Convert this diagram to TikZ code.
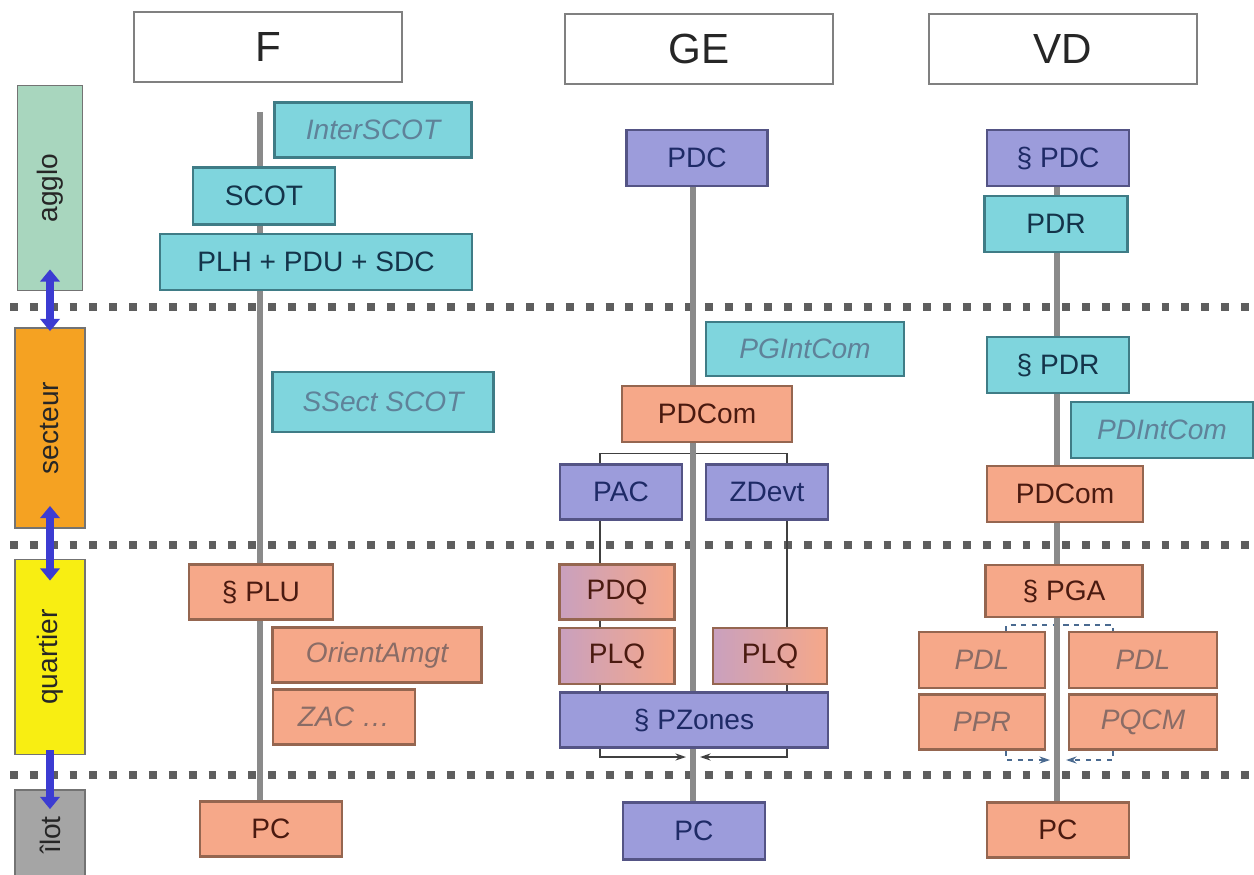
\documentclass[tikz,border=0pt]{standalone}
\usepackage{fontspec}
\setmainfont{Liberation Sans}
\usetikzlibrary{arrows.meta, backgrounds}

\definecolor{cyanfill}{HTML}{7FD5DD}
\definecolor{cyanline}{HTML}{3F7C86}
\definecolor{cyantext}{HTML}{14344A}
\definecolor{cyannote}{HTML}{5F8299}
\definecolor{purplefill}{HTML}{9C9CDB}
\definecolor{purpleline}{HTML}{545485}
\definecolor{purpletext}{HTML}{1E2A66}
\definecolor{salmonfill}{HTML}{F6A889}
\definecolor{salmonline}{HTML}{956650}
\definecolor{salmontext}{HTML}{4A1A10}
\definecolor{salmonnote}{HTML}{8A6C66}
\definecolor{mauvefill}{HTML}{C9A0BE}
\definecolor{agglofill}{HTML}{A8D6BE}
\definecolor{secteurfill}{HTML}{F5A222}
\definecolor{quartierfill}{HTML}{F8EE12}
\definecolor{ilotfill}{HTML}{A5A5A5}
\definecolor{arrowblue}{HTML}{3C3CD2}
\definecolor{spinegray}{HTML}{8A8A8A}
\definecolor{dotgray}{HTML}{5E5E5E}
\definecolor{dashblue}{HTML}{4A6A90}

\begin{document}
\begin{tikzpicture}[x=0.02cm, y=-0.02cm,
  wh/.style 2 args={minimum width=#1*0.02cm, minimum height=#2*0.02cm},
  box/.style={draw, line width=1.2pt, inner sep=0pt, wh={142}{56},
    font=\fontsize{16}{18}\selectfont},
  note/.style={font=\fontsize{16}{18}\selectfont\itshape},
  head/.style={draw=gray, line width=1pt, fill=white, inner sep=0pt, wh={268}{70},
    text=black!85, font=\fontsize{24}{26}\selectfont},
  level/.style={draw=black!55, line width=1pt, inner sep=0pt, rotate=90,
    text=black!85, font=\fontsize{16}{18}\selectfont},
  cyanbox/.style={box, fill=cyanfill, draw=cyanline, text=cyantext},
  purplebox/.style={box, fill=purplefill, draw=purpleline, text=purpletext},
  salmonbox/.style={box, fill=salmonfill, draw=salmonline, text=salmontext},
  mauvebox/.style={box, left color=mauvefill, right color=salmonfill, draw=salmonline, text=salmontext},
  spine/.style={line width=3.5pt, draw=spinegray},
  levelline/.style={line width=4.5pt, draw=dotgray, dash pattern=on 4.5pt off 6.8pt},
  lvlarrow/.style={line width=4.5pt, draw=arrowblue, arrows={-{Triangle[width=11pt,length=7pt]}}},
  link/.style={line width=1pt, draw=black!75},
  dlink/.style={line width=1pt, draw=dashblue, dashed}
]

  \useasboundingbox (0,0) rectangle (1254,875);

  % Headers
  \node[head] (hF) at (268,47) {F};
  \node[head] (hGE) at (699,49) {GE};
  \node[head] (hVD) at (1063,49) {VD};

  % Levels (rotated: east is the top, west the bottom)
  \node[level, fill=agglofill, wh={205}{65}] (agglo) at (50,188) {agglo};
  \node[level, fill=secteurfill, wh={200}{70}] (secteur) at (50,428) {secteur};
  \node[level, fill=quartierfill, wh={195}{70}] (quartier) at (50,657) {quartier};
  \node[level, fill=ilotfill, wh={90}{70}] (ilot) at (50,835) {îlot};

  % Column F
  \node[cyanbox, note, text=cyannote, wh={197}{55}] (interscot) at (373,130) {InterSCOT};
  \node[cyanbox, wh={142}{57}] (scot) at (264,196) {SCOT};
  \node[cyanbox, wh={312}{56}] (plh) at (316,262) {PLH + PDU + SDC};
  \node[cyanbox, note, text=cyannote, wh={221}{60}] (ssect) at (383,402) {SSect SCOT};
  \node[salmonbox, wh={144}{55}] (plu) at (261,592) {§ PLU};
  \node[salmonbox, note, text=salmonnote, wh={209}{55}] (orient) at (377,655) {OrientAmgt};
  \node[salmonbox, note, text=salmonnote, wh={142}{55}] (zac) at (344,717) {ZAC \dots};
  \node[salmonbox, wh={142}{55}] (pcF) at (271,829) {PC};

  % Column GE
  \node[purplebox, wh={141}{56}] (pdc) at (697,158) {PDC};
  \node[cyanbox, note, text=cyannote, wh={198}{54}] (pgint) at (805,349) {PGIntCom};
  \node[salmonbox, wh={170}{56}] (pdcomG) at (707,414) {PDCom};
  \node[purplebox, wh={122}{55}] (pac) at (621,492) {PAC};
  \node[purplebox, wh={122}{55}] (zdevt) at (767,492) {ZDevt};
  \node[mauvebox, wh={115}{55}] (pdq) at (617,592) {PDQ};
  \node[mauvebox, wh={115}{56}] (plqL) at (617,656) {PLQ};
  \node[mauvebox, wh={114}{56}] (plqR) at (770,656) {PLQ};
  \node[purplebox, wh={268}{55}] (pzones) at (694,720) {§ PZones};
  \node[purplebox, wh={142}{57}] (pcGE) at (694,831) {PC};

  % Column VD
  \node[purplebox, wh={142}{56}] (pdcV) at (1058,158) {§ PDC};
  \node[cyanbox, wh={143}{56}] (pdr) at (1056,224) {PDR};
  \node[cyanbox, wh={142}{56}] (spdr) at (1058,365) {§ PDR};
  \node[cyanbox, note, text=cyannote, wh={182}{56}] (pdint) at (1162,430) {PDIntCom};
  \node[salmonbox, wh={156}{56}] (pdcomV) at (1065,494) {PDCom};
  \node[salmonbox, wh={157}{52}] (pga) at (1064,591) {§ PGA};
  \node[salmonbox, note, text=salmonnote, wh={126}{56}] (pdlL) at (982,660) {PDL};
  \node[salmonbox, note, text=salmonnote, wh={148}{56}] (pdlR) at (1143,660) {PDL};
  \node[salmonbox, note, text=salmonnote, wh={126}{55}] (ppr) at (982,722) {PPR};
  \node[salmonbox, note, text=salmonnote, wh={148}{55}] (pqcm) at (1143,722) {PQCM};
  \node[salmonbox, wh={142}{55}] (pcV) at (1058,830) {PC};

  % Spine and branch positions
  \coordinate (topF) at (260,112);
  \coordinate (sGE) at (693,0);
  \coordinate (sVD) at (1057,0);
  \coordinate (gl) at (600,0);
  \coordinate (gr) at (787,0);
  \coordinate (geL) at (686,757);
  \coordinate (geR) at (700,757);
  \coordinate (vl) at (1006,0);
  \coordinate (vr) at (1113,0);
  \coordinate (vdL) at (1050,760);
  \coordinate (vdR) at (1066,760);

  \begin{scope}[on background layer]
    % Level separators
    \foreach \yy in {307,545,775}
      \draw[levelline] (10,\yy) -- (1254,\yy);

    % GE branches
    \draw[link] (pac.north -| gl) -- ++(0,-10) -| (zdevt.north -| gr);
    \draw[link] (pac.south -| gl) -- (pdq.north -| gl);
    \draw[link] (pdq.south -| gl) -- (plqL.north -| gl);
    \draw[link] (plqL.south -| gl) -- (pzones.north -| gl);
    \draw[link] (zdevt.south -| gr) -- (plqR.north -| gr);
    \draw[link] (plqR.south -| gr) -- (pzones.north -| gr);
    \draw[link, -{Stealth[length=6pt,width=4pt]}] (pzones.south -| gl) |- (geL);
    \draw[link, -{Stealth[length=6pt,width=4pt]}] (pzones.south -| gr) |- (geR);

    % VD branches
    \draw[dlink] (pdlL.north -| vl) -- ++(0,-6) -| (pdlR.north -| vr);
    \draw[dlink, -{Stealth[length=6pt,width=4pt]}] (ppr.south -| vl) |- (vdL);
    \draw[dlink, -{Stealth[length=6pt,width=4pt]}] (pqcm.south -| vr) |- (vdR);

    % Spines
    \draw[spine] (topF) -- (pcF.north -| topF);
    \draw[spine] (pdc.south -| sGE) -- (pcGE.north -| sGE);
    \draw[spine] (pdcV.south -| sVD) -- (pcV.north -| sVD);
  \end{scope}

  % Level arrows
  \draw[lvlarrow, arrows={{Triangle[width=11pt,length=7pt]}-{Triangle[width=11pt,length=7pt]}},
    shorten <=-0.44cm, shorten >=-0.08cm] (agglo.west) -- (secteur.east);
  \draw[lvlarrow, arrows={{Triangle[width=11pt,length=7pt]}-{Triangle[width=11pt,length=7pt]}},
    shorten <=-0.46cm, shorten >=-0.44cm] (secteur.west) -- (quartier.east);
  \draw[lvlarrow, shorten <=-0.1cm, shorten >=-0.4cm] (quartier.west) -- (ilot.east);

\end{tikzpicture}
\end{document}
